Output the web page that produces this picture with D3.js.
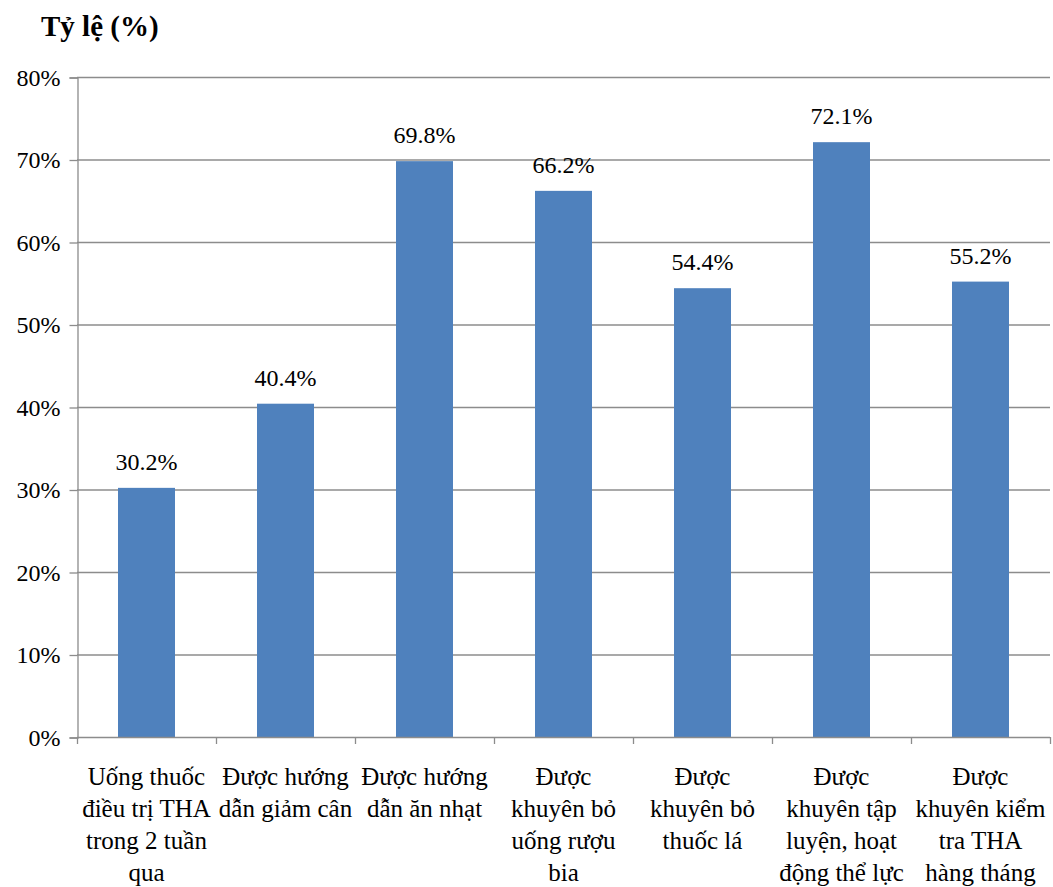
<!DOCTYPE html>
<html>
<head>
<meta charset="utf-8">
<script src="https://cdn.jsdelivr.net/npm/d3@7"></script>
<style>
  body { margin: 0; background: #fff; }
  text { font-family: "Liberation Serif", "Times New Roman", serif; fill: #000; }
</style>
</head>
<body>
<div class="chart"></div>
<script>
// data
let categories = [
  ["Uống thuốc", "điều trị THA", "trong 2 tuần", "qua"],
  ["Được hướng", "dẫn giảm cân"],
  ["Được hướng", "dẫn ăn nhạt"],
  ["Được", "khuyên bỏ", "uống rượu", "bia"],
  ["Được", "khuyên bỏ", "thuốc lá"],
  ["Được", "khuyên tập", "luyện, hoạt", "động thể lực"],
  ["Được", "khuyên kiểm", "tra THA", "hàng tháng"]
];
let values = [30.2, 40.4, 69.8, 66.2, 54.4, 72.1, 55.2];
let yTicks = [0, 10, 20, 30, 40, 50, 60, 70, 80];
let yTitle = "Tỷ lệ (%)";

let width = 1053, height = 887;
let plot = {left: 77, right: 1050, top: 77, bottom: 737};
let serif = "'Liberation Serif', 'Times New Roman', serif";

const svg = d3.select(".chart")
  .append("svg")
  .attr("width", width)
  .attr("height", height);

let x = d3.scaleBand()
  .domain(d3.range(values.length))
  .range([plot.left, plot.right])
  .paddingInner(0.59)
  .paddingOuter(0.295);

let step = (plot.right - plot.left) / values.length;

let y = d3.scaleLinear()
  .domain([0, 80])
  .range([plot.bottom, plot.top]);

// gridlines
svg.append("g")
  .selectAll("line")
  .data(yTicks.slice(1))
  .enter()
  .append("line")
  .attr("x1", plot.left)
  .attr("x2", plot.right)
  .attr("y1", d => y(d) + 0.5)
  .attr("y2", d => y(d) + 0.5)
  .attr("stroke", "#8c8c8c")
  .attr("stroke-width", 1.3);

// y axis
let yAxis = d3.axisLeft(y)
  .tickValues(yTicks)
  .tickSize(8)
  .tickPadding(9)
  .tickFormat(d => d + "%");

let yg = svg.append("g")
  .attr("transform", "translate(" + (plot.left + 0.5) + ",0.5)")
  .attr("font-family", serif)
  .call(yAxis);
yg.select(".domain").attr("stroke", "#8c8c8c").attr("stroke-width", 1.3);
yg.selectAll(".tick line").attr("stroke", "#8c8c8c").attr("stroke-width", 1.3);
yg.selectAll(".tick text")
  .style("font-family", serif)
  .style("font-size", "24px")
  .attr("fill", "#000");

// bars
svg.append("g")
  .selectAll("rect")
  .data(values)
  .enter()
  .append("rect")
  .attr("x", (d, i) => x(i))
  .attr("y", d => y(d))
  .attr("width", x.bandwidth())
  .attr("height", d => y(0) - y(d))
  .attr("fill", "#4f81bd");

// x axis baseline and category ticks
svg.append("line")
  .attr("x1", plot.left)
  .attr("x2", plot.right)
  .attr("y1", y(0) + 0.5)
  .attr("y2", y(0) + 0.5)
  .attr("stroke", "#8c8c8c")
  .attr("stroke-width", 1.3);

svg.append("g")
  .selectAll("line")
  .data(d3.range(values.length + 1))
  .enter()
  .append("line")
  .attr("x1", i => plot.left + i * step + 0.5)
  .attr("x2", i => plot.left + i * step + 0.5)
  .attr("y1", y(0))
  .attr("y2", y(0) + 7)
  .attr("stroke", "#8c8c8c")
  .attr("stroke-width", 1.3);

// data labels
svg.append("g")
  .selectAll("text")
  .data(values)
  .enter()
  .append("text")
  .attr("x", (d, i) => x(i) + x.bandwidth() / 2)
  .attr("y", d => y(d) - 18)
  .attr("text-anchor", "middle")
  .style("font-family", serif)
  .style("font-size", "24px")
  .text(d => d.toFixed(1) + "%");

// category labels
let catG = svg.append("g")
  .selectAll("text")
  .data(categories)
  .enter()
  .append("text")
  .attr("text-anchor", "middle")
  .style("font-family", serif)
  .style("font-size", "25px");

catG.selectAll("tspan")
  .data((d, i) => d.map(line => ({line: line, i: i})))
  .enter()
  .append("tspan")
  .attr("x", d => x(d.i) + x.bandwidth() / 2)
  .attr("y", (d, j) => 785 + j * 32)
  .text(d => d.line);

// axis title
svg.append("text")
  .attr("x", 41)
  .attr("y", 36)
  .style("font-family", serif)
  .style("font-size", "29px")
  .style("font-weight", "bold")
  .text(yTitle);
</script>
</body>
</html>
